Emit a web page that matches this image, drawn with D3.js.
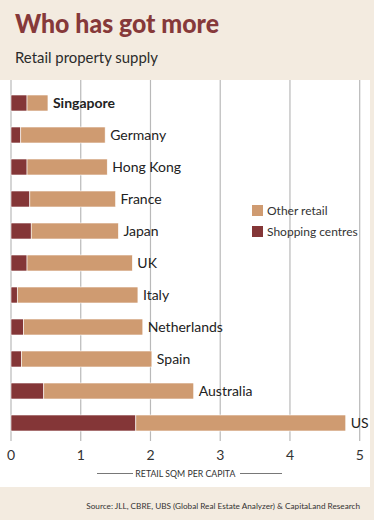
<!DOCTYPE html>
<html>
<head>
<meta charset="utf-8">
<script src="https://cdn.jsdelivr.net/npm/d3@7"></script>
<style>
  body { margin: 0; background: #f3ebe0; }
  svg { display: block; font-family: Lato, "Noto Sans", sans-serif; }
</style>
</head>
<body>
<div id="chart"></div>
<script>
  // data (retail sqm per capita)
  const countries = ["Singapore", "Germany", "Hong Kong", "France", "Japan", "UK",
    "Italy", "Netherlands", "Spain", "Australia", "US"];
  const shoppingCentres = [0.23, 0.14, 0.23, 0.27, 0.29, 0.23, 0.09, 0.18, 0.15, 0.47, 1.79];
  const otherRetail = [0.30, 1.21, 1.15, 1.23, 1.25, 1.51, 1.73, 1.71, 1.87, 2.15, 3.01];
  const ticks = [0, 1, 2, 3, 4, 5];
  const keys = ["Shopping centres", "Other retail"];

  const W = 374, H = 520;
  const colours = { "Shopping centres": "#843637", "Other retail": "#cf9b71" };

  const svg = d3.select("#chart").append("svg")
    .attr("width", W)
    .attr("height", H);

  // background panels
  svg.append("rect").attr("width", W).attr("height", H).attr("fill", "#f3ebe0");
  svg.append("rect").attr("x", 0).attr("y", 80).attr("width", 370).attr("height", 407).attr("fill", "#fff");

  // header
  svg.append("text")
    .attr("x", 15).attr("y", 33)
    .attr("font-size", 27).attr("font-weight", 900)
    .attr("fill", "#86393a")
    .attr("textLength", 204).attr("lengthAdjust", "spacingAndGlyphs")
    .text("Who has got more");

  svg.append("text")
    .attr("x", 15).attr("y", 63)
    .attr("font-size", 16)
    .attr("fill", "#2b2b2b")
    .attr("textLength", 143).attr("lengthAdjust", "spacingAndGlyphs")
    .text("Retail property supply");

  // scales
  let x = d3.scaleLinear().domain([0, 5]).range([11, 359.7]);
  let y = d3.scaleBand().domain(countries).range([87, 439]).paddingInner(0.5).paddingOuter(0.25);

  // gridlines
  svg.append("g")
    .selectAll("line")
    .data(ticks)
    .enter().append("line")
    .attr("x1", d => x(d)).attr("x2", d => x(d))
    .attr("y1", 80).attr("y2", 441)
    .attr("stroke", "#b9b9b9")
    .attr("stroke-width", 1.2);

  // stacked bars
  const rows = countries.map((c, i) => ({
    country: c,
    "Shopping centres": shoppingCentres[i],
    "Other retail": otherRetail[i]
  }));
  const stacked = d3.stack().keys(keys)(rows);

  svg.append("g")
    .selectAll("g")
    .data(stacked)
    .enter().append("g")
    .attr("fill", d => colours[d.key])
    .selectAll("rect")
    .data(d => d)
    .enter().append("rect")
    .attr("x", d => x(d[0]))
    .attr("y", d => y(d.data.country))
    .attr("width", d => x(d[1]) - x(d[0]))
    .attr("height", y.bandwidth())
    .attr("stroke", "#fff")
    .attr("stroke-width", 0.6);

  // country labels
  svg.append("g")
    .selectAll("text")
    .data(rows)
    .enter().append("text")
    .attr("x", d => x(d["Shopping centres"] + d["Other retail"]) + 5)
    .attr("y", d => y(d.country) + y.bandwidth() / 2)
    .attr("dy", "0.36em")
    .attr("font-size", 14)
    .attr("font-weight", d => d.country === "Singapore" ? 700 : 400)
    .attr("fill", "#222")
    .text(d => d.country);

  // x axis tick labels
  svg.append("g")
    .selectAll("text")
    .data(ticks)
    .enter().append("text")
    .attr("x", d => x(d))
    .attr("y", 460)
    .attr("text-anchor", "middle")
    .attr("font-size", 14)
    .attr("fill", "#333")
    .text(d => d);

  // axis title with rules either side
  const mid = x(2.5);
  svg.append("text")
    .attr("x", mid).attr("y", 477)
    .attr("text-anchor", "middle")
    .attr("font-size", 10)
    .attr("fill", "#333")
    .attr("textLength", 100).attr("lengthAdjust", "spacingAndGlyphs")
    .text("RETAIL SQM PER CAPITA");
  svg.append("line").attr("x1", 97).attr("x2", 133).attr("y1", 473.5).attr("y2", 473.5).attr("stroke", "#555").attr("stroke-width", 0.8);
  svg.append("line").attr("x1", 240).attr("x2", 282).attr("y1", 473.5).attr("y2", 473.5).attr("stroke", "#555").attr("stroke-width", 0.8);

  // legend
  const legend = svg.append("g").attr("transform", "translate(252,205)");
  ["Other retail", "Shopping centres"].forEach((k, i) => {
    legend.append("rect")
      .attr("x", 0).attr("y", i * 21)
      .attr("width", 11).attr("height", 11)
      .attr("fill", colours[k]);
    legend.append("text")
      .attr("x", 15).attr("y", i * 21 + 5.5)
      .attr("dy", "0.36em")
      .attr("font-size", 12)
      .attr("fill", "#333")
      .text(k);
  });

  // source
  svg.append("text")
    .attr("x", 360).attr("y", 509)
    .attr("text-anchor", "end")
    .attr("font-size", 8.2)
    .attr("fill", "#333")
    .text("Source: JLL, CBRE, UBS (Global Real Estate Analyzer) & CapitaLand Research");
</script>
</body>
</html>
